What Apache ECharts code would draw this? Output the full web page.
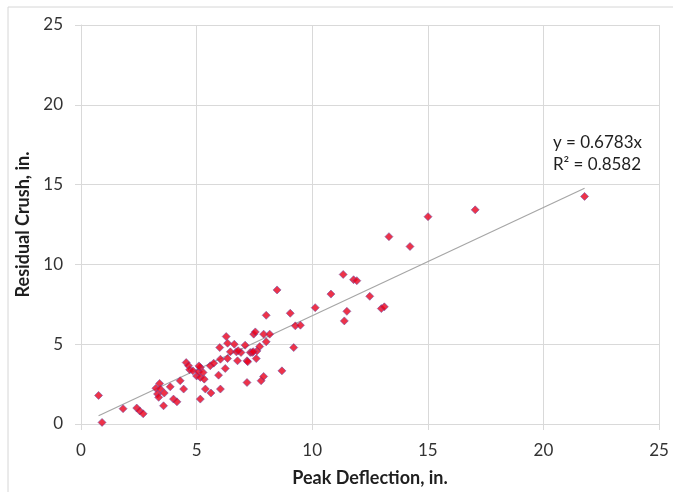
<!DOCTYPE html>
<html>
<head>
<meta charset="utf-8">
<script src="https://cdn.jsdelivr.net/npm/echarts@6/dist/echarts.min.js"></script>
<style>
  html, body { margin: 0; padding: 0; background: #fff; }
  #chart { width: 673px; height: 492px; }
</style>
</head>
<body>
<div id="chart"></div>
<script>
// Peak deflection (in.) of each test
const peakDeflection = [
  0.76, 0.91, 1.82, 2.41, 2.54, 2.69, 3.24, 3.31, 3.36, 3.40,
  3.43, 3.57, 3.60, 3.86, 4.00, 4.15, 4.29, 4.44, 4.55, 4.65,
  4.70, 4.84, 5.00, 5.09, 5.16, 5.16, 5.16, 5.28, 5.33, 5.38,
  5.59, 5.62, 5.74, 5.95, 6.03, 6.00, 6.03, 6.24, 6.28, 6.34,
  6.34, 6.46, 6.63, 6.72, 6.77, 6.92, 7.10, 7.18, 7.21, 7.18,
  7.32, 7.40, 7.47, 7.54, 7.58, 7.61, 7.73, 7.79, 7.90, 7.90,
  8.01, 8.01, 8.16, 8.48, 8.69, 9.05, 9.20, 9.27, 9.49, 10.13,
  10.81, 11.34, 11.39, 11.50, 11.79, 11.93, 12.49, 12.99, 13.12, 13.32,
  14.23, 15.01, 17.05, 21.78, 6.80, 7.45, 5.10
];
// Residual crush (in.) of each test, same order
const residualCrush = [
  1.79, 0.10, 0.96, 1.00, 0.82, 0.64, 2.24, 1.88, 1.67, 2.54,
  2.19, 1.14, 1.94, 2.33, 1.56, 1.39, 2.71, 2.19, 3.85, 3.65,
  3.40, 3.33, 3.01, 3.27, 3.54, 2.92, 1.56, 3.23, 2.81, 2.19,
  3.65, 1.94, 3.81, 3.06, 4.06, 4.79, 2.19, 3.48, 5.48, 5.06,
  4.10, 4.52, 5.00, 4.52, 3.96, 4.48, 4.94, 3.96, 3.90, 2.60,
  4.48, 4.48, 5.63, 5.77, 4.10, 4.58, 4.85, 2.71, 2.98, 5.63,
  5.15, 6.81, 5.63, 8.40, 3.33, 6.94, 4.79, 6.15, 6.19, 7.29,
  8.14, 9.37, 6.46, 7.06, 9.04, 8.98, 8.00, 7.23, 7.34, 11.74,
  11.12, 12.99, 13.42, 14.26, 4.59, 4.53, 3.64
];
// Linear fit through the origin
const slope = 0.6783;
const rSquared = 0.8582;
const axisTicks = [0, 5, 10, 15, 20, 25];

const points = peakDeflection.map((x, i) => [x, residualCrush[i]]);
const xMin = Math.min(...peakDeflection);
const xMax = Math.max(...peakDeflection);
const fitLine = [[xMin, slope * xMin], [xMax, slope * xMax]];

const font = 'Lato, "Open Sans", sans-serif';
const gridColor = '#d9d9d9';

const chart = echarts.init(document.getElementById('chart'), null, { renderer: 'canvas' });
chart.setOption({
  animation: false,
  backgroundColor: '#fff',
  graphic: [{
    type: 'rect',
    shape: { x: 8, y: 7, width: 700, height: 520 },
    style: { fill: 'none', stroke: '#d6d6d6', lineWidth: 1 },
    silent: true
  }],
  grid: { left: 81, right: 14, top: 25, bottom: 67, containLabel: false },
  xAxis: {
    type: 'value',
    min: axisTicks[0], max: axisTicks[axisTicks.length - 1], interval: 5,
    name: 'Peak Deflection, in.',
    nameLocation: 'middle', nameGap: 45,
    nameTextStyle: { fontFamily: font, fontSize: 18, fontWeight: 'bold', color: '#1f1f1f' },
    axisLine: { show: true, lineStyle: { color: gridColor, width: 1 } },
    axisTick: { show: true, length: 6, lineStyle: { color: gridColor } },
    axisLabel: { fontFamily: font, fontSize: 17, color: '#333', margin: 18 },
    splitLine: { show: true, lineStyle: { color: gridColor, width: 1 } }
  },
  yAxis: {
    type: 'value',
    min: axisTicks[0], max: axisTicks[axisTicks.length - 1], interval: 5,
    name: 'Residual Crush, in.',
    nameLocation: 'middle', nameGap: 42,
    nameTextStyle: { fontFamily: font, fontSize: 18, fontWeight: 'bold', color: '#1f1f1f' },
    axisLine: { show: true, lineStyle: { color: gridColor, width: 1 } },
    axisTick: { show: true, length: 6, lineStyle: { color: gridColor } },
    axisLabel: { fontFamily: font, fontSize: 17, color: '#333', margin: 18 },
    splitLine: { show: true, lineStyle: { color: gridColor, width: 1 } }
  },
  series: [
    {
      name: 'Fit',
      type: 'line',
      data: fitLine,
      symbol: 'none',
      lineStyle: { color: '#a6a6a6', width: 1.2 },
      silent: true,
      z: 2,
      markPoint: {
        symbol: 'rect', symbolSize: 1,
        itemStyle: { color: 'transparent' },
        data: [{
          coord: [22.4, 16.95],
          label: {
            show: true,
            position: 'inside',
            formatter: 'y = ' + slope + 'x\nR² = ' + rSquared,
            fontFamily: font, fontSize: 17, lineHeight: 22,
            color: '#1f1f1f', align: 'left', offset: [-46, 0]
          }
        }]
      }
    },
    {
      name: 'Tests',
      type: 'scatter',
      data: points,
      symbol: 'diamond',
      symbolSize: 8,
      itemStyle: { color: '#e8001c', borderColor: '#6b4fa8', borderWidth: 0.7 },
      z: 3
    }
  ]
});
</script>
</body>
</html>
